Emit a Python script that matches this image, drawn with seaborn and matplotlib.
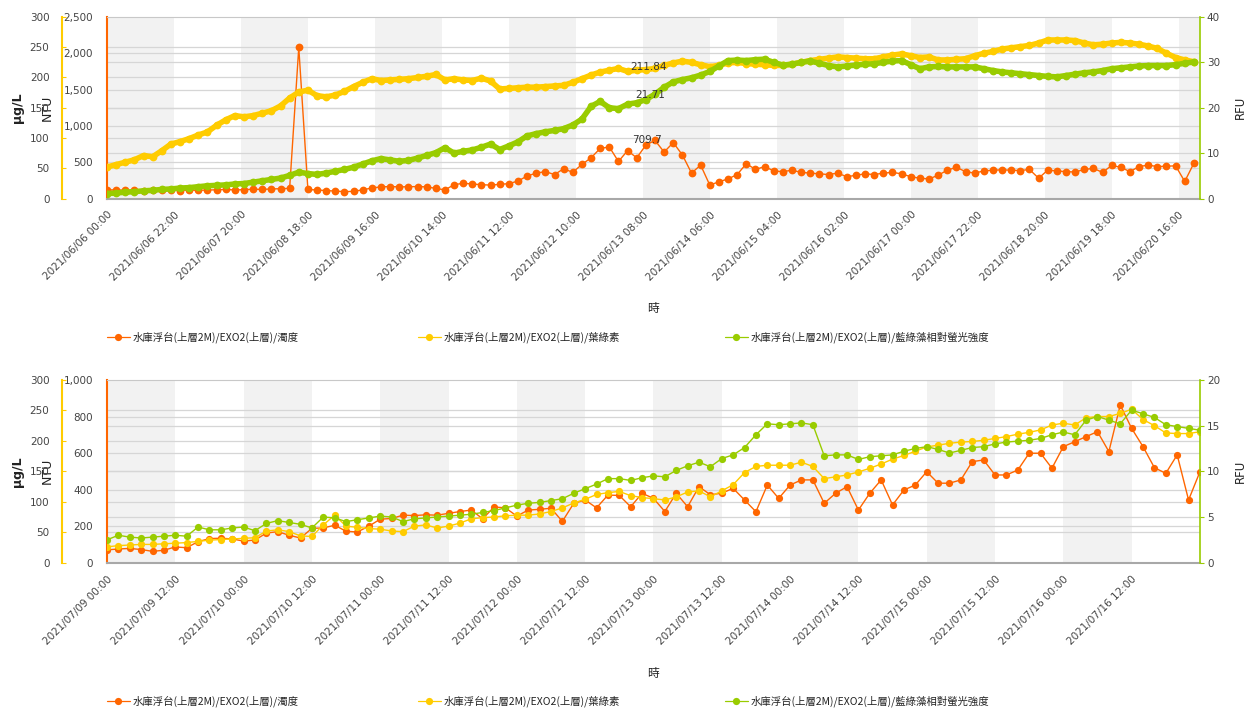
import numpy as np
import pandas as pd
import matplotlib
matplotlib.use('Agg')
import matplotlib.pyplot as plt
import matplotlib.ticker as mticker
from matplotlib.lines import Line2D
import seaborn as sns

# ---- series names ----
names = ['水庫浮台(上層2M)/EXO2(上層)/濁度',
         '水庫浮台(上層2M)/EXO2(上層)/葉綠素',
         '水庫浮台(上層2M)/EXO2(上層)/藍綠藻相對螢光強度']

# ---- top panel: 2021/06/06 00:00, every 3 hours ----
top_start = '2021-06-06 00:00'
top_ntu = [117, 120, 112, 118, 110, 115, 112, 118, 110, 116,
           113, 117, 120, 125, 118, 122, 128, 125, 132, 135,
           140, 2080, 125, 117, 110, 102, 95, 98, 120, 145,
           160, 165, 160, 162, 165, 160, 140, 118, 190, 210,
           200, 190, 185, 195, 205, 240, 310, 350, 370, 330,
           410, 360, 470, 560, 690, 710, 510, 660, 560, 735,
           800, 640, 770, 600, 350, 460, 185, 230, 270, 330,
           480, 400, 440, 380, 370, 390, 360, 350, 340, 330,
           350, 300, 320, 340, 330, 350, 360, 340, 300, 280,
           270, 320, 390, 430, 370, 350, 380, 390, 395, 390,
           385, 400, 280, 390, 380, 370, 365, 400, 415, 360,
           455, 430, 370, 440, 460, 440, 445, 450, 235, 485]
top_ugl = [52, 56, 60, 64, 71, 69, 79, 90, 94, 99,
           105, 110, 121, 130, 137, 135, 137, 141, 145, 153,
           166, 176, 179, 170, 168, 171, 177, 185, 192, 198,
           195, 196, 197, 198, 200, 202, 205, 196, 198, 196,
           195, 199, 194, 181, 182, 183, 184, 184, 185, 186,
           187, 192, 198, 204, 209, 212, 215, 210, 212, 213,
           215, 220, 224, 227, 225, 221, 218, 220, 224, 225,
           223, 222, 221, 220, 220, 222, 225, 228, 230, 232,
           234, 233, 232, 231, 231, 234, 237, 239, 236, 233,
           234, 229, 229, 230, 231, 236, 240, 243, 247, 249,
           251, 253, 257, 262, 262, 262, 261, 257, 254, 255,
           257, 258, 257, 255, 252, 248, 240, 233, 229, 226]
top_rfu = [1.1, 1.2, 1.4, 1.5, 1.7, 1.8, 2.0, 2.1, 2.3, 2.4,
           2.6, 2.8, 2.9, 3.0, 3.2, 3.3, 3.6, 3.9, 4.2, 4.5,
           5.1, 5.8, 5.5, 5.3, 5.6, 6.0, 6.4, 6.9, 7.6, 8.3,
           8.8, 8.5, 8.2, 8.4, 8.9, 9.5, 10.1, 11.2, 10.0, 10.4,
           10.7, 11.3, 12.0, 10.8, 11.6, 12.5, 13.8, 14.3, 14.7, 15.0,
           15.4, 16.2, 17.5, 20.3, 21.4, 20.0, 19.8, 20.8, 21.1, 21.8,
           23.0, 24.5, 25.7, 26.2, 26.6, 27.2, 28.0, 29.2, 30.4, 30.5,
           30.4, 30.6, 30.7, 30.0, 29.4, 29.6, 30.0, 30.3, 29.8, 29.3,
           29.0, 29.2, 29.4, 29.6, 29.7, 30.0, 30.3, 30.4, 29.5, 28.6,
           29.0, 29.1, 29.0, 29.0, 29.0, 29.0, 28.6, 28.2, 27.9, 27.7,
           27.5, 27.3, 27.1, 26.9, 26.8, 27.1, 27.4, 27.7, 27.9, 28.2,
           28.6, 28.8, 29.0, 29.2, 29.3, 29.3, 29.3, 29.5, 29.8, 30.1]

# ---- bottom panel: 2021/07/09 00:00, every 2 hours ----
bot_start = '2021-07-09 00:00'
bot_ntu = [70, 75, 78, 72, 62, 68, 86, 82, 115, 132,
           134, 130, 118, 124, 162, 170, 150, 135, 188, 190,
           205, 172, 168, 200, 238, 242, 260, 258, 262, 260,
           270, 280, 288, 240, 305, 300, 255, 288, 292, 298,
           226, 325, 343, 300, 370, 368, 306, 380, 352, 280,
           380, 306, 416, 372, 380, 407, 343, 279, 425, 352,
           425, 453, 453, 325, 380, 416, 288, 380, 453, 316,
           398, 425, 498, 435, 435, 453, 553, 562, 480, 480,
           507, 599, 599, 517, 635, 662, 690, 717, 608, 863,
           735, 635, 520, 489, 590, 343, 498]
bot_ugl = [26, 28, 29, 30, 30, 31, 32, 33, 35, 37,
           38, 39, 40, 41, 52, 54, 51, 44, 43, 62,
           78, 60, 58, 56, 55, 52, 51, 60, 62, 57,
           60, 65, 72, 74, 75, 77, 78, 78, 80, 84,
           90, 98, 104, 112, 115, 117, 110, 107, 105, 103,
           108, 116, 118, 108, 118, 128, 148, 158, 160, 160,
           160, 165, 158, 138, 141, 144, 149, 155, 162, 170,
           176, 183, 190, 193, 196, 198, 199, 201, 204, 207,
           211, 214, 218, 226, 229, 226, 238, 240, 240, 245,
           252, 235, 225, 213, 212, 212, 215]
bot_rfu = [2.5, 3.0, 2.8, 2.7, 2.8, 2.9, 3.0, 2.9, 3.9, 3.6,
           3.6, 3.8, 3.9, 3.5, 4.3, 4.6, 4.4, 4.2, 3.8, 5.0,
           4.9, 4.5, 4.7, 4.9, 5.1, 5.0, 4.5, 4.8, 4.9, 5.0,
           5.1, 5.2, 5.3, 5.5, 5.7, 6.0, 6.3, 6.5, 6.6, 6.8,
           7.0, 7.6, 8.1, 8.6, 9.2, 9.2, 9.0, 9.3, 9.5, 9.4,
           10.1, 10.6, 11.0, 10.5, 11.4, 11.8, 12.6, 14.0, 15.2, 15.1,
           15.2, 15.3, 15.1, 11.7, 11.8, 11.8, 11.3, 11.6, 11.7, 11.8,
           12.2, 12.5, 12.7, 12.4, 12.0, 12.3, 12.6, 12.7, 13.0, 13.2,
           13.3, 13.4, 13.6, 14.0, 14.3, 14.0, 15.6, 16.0, 15.6, 15.2,
           16.7, 16.3, 15.9, 15.1, 14.9, 14.7, 14.5]

ORANGE = '#ff6600'
YELLOW = '#ffcc00'
GREEN = '#99cc00'
GRID = '#d6d6d6'
TXT = '#444444'
CJK = ['Noto Sans CJK TC', 'DejaVu Sans']

sns.set_style('white')
plt.rcParams['font.family'] = ['DejaVu Sans', 'Noto Sans CJK TC']

fig = plt.figure(figsize=(12.54, 7.11), dpi=100)


def panel(rect, start, step, ntu, ugl, rfu, ntu_max, ntu_step, rfu_max, rfu_step,
          tick_hours, n_ticks, end_hours, legend_y, band_lw, ms):
    ax = fig.add_axes(rect)
    ax_y = ax.twinx()
    ax_g = ax.twinx()

    t0 = pd.Timestamp(start)
    times = pd.date_range(t0, periods=len(ntu), freq=f'{step}h')
    ticks = [t0 + pd.Timedelta(hours=tick_hours * k) for k in range(n_ticks)]
    t_end = t0 + pd.Timedelta(hours=end_hours)

    # alternating background bands
    for k in range(0, n_ticks, 2):
        ax.axvspan(ticks[k], ticks[k] + pd.Timedelta(hours=tick_hours),
                   color='#f2f2f2', lw=0, zorder=0)

    # horizontal grid from all three scales
    for v in np.arange(ntu_step, ntu_max, ntu_step):
        ax.axhline(v, color=GRID, lw=0.9, zorder=1)
    for v in np.arange(50, 300, 50):
        ax.axhline(v / 300 * ntu_max, color=GRID, lw=0.9, zorder=1)
    for v in np.arange(rfu_step, rfu_max, rfu_step):
        ax.axhline(v / rfu_max * ntu_max, color=GRID, lw=0.9, zorder=1)

    kw = dict(marker='o', markersize=ms, markeredgewidth=0)
    sns.lineplot(x=times, y=ntu, ax=ax, color=ORANGE, zorder=3, linewidth=1.0, **kw)
    sns.lineplot(x=times, y=ugl, ax=ax_y, color=YELLOW, linewidth=band_lw, **kw)
    sns.lineplot(x=times, y=rfu, ax=ax_g, color=GREEN, linewidth=band_lw, **kw)

    ax.set_xlim(t0, t_end)
    ax.set_ylim(0, ntu_max)
    ax_y.set_ylim(0, 300)
    ax_g.set_ylim(0, rfu_max)

    # spines
    for a in (ax, ax_y, ax_g):
        for s in a.spines.values():
            s.set_visible(False)
    ax.spines['left'].set_visible(True)
    ax.spines['left'].set_color(ORANGE)
    ax.spines['left'].set_linewidth(1.5)
    ax.spines['top'].set_visible(True)
    ax.spines['top'].set_color('#c8c8c8')
    ax.spines['bottom'].set_visible(True)
    ax.spines['bottom'].set_color('#a8a8a8')
    ax.spines['bottom'].set_linewidth(1.5)
    ax_y.yaxis.tick_left()
    ax_y.yaxis.set_label_position('left')
    ax_y.spines['left'].set_visible(True)
    ax_y.spines['left'].set_position(('outward', 32.4))
    ax_y.spines['left'].set_color(YELLOW)
    ax_y.spines['left'].set_linewidth(1.5)
    ax_g.spines['right'].set_visible(True)
    ax_g.spines['right'].set_color(GREEN)
    ax_g.spines['right'].set_linewidth(1.2)

    # y ticks
    ax.set_yticks(np.arange(0, ntu_max + 1, ntu_step))
    ax.yaxis.set_major_formatter(mticker.FuncFormatter(lambda v, p: f'{v:,.0f}'))
    ax.tick_params(axis='y', length=0, pad=10, labelsize=7.5, labelcolor=TXT)
    ax_y.set_yticks(np.arange(0, 301, 50))
    ax_y.tick_params(axis='y', direction='in', length=3, color=YELLOW, pad=9,
                     labelsize=7.5, labelcolor=TXT)
    ax_g.set_yticks(np.arange(0, rfu_max + 1, rfu_step))
    ax_g.tick_params(axis='y', direction='out', length=3, color=GREEN, pad=2,
                     labelsize=7.5, labelcolor=TXT)

    # x ticks
    ax.set_xticks(ticks)
    ax.set_xticklabels([t.strftime('%Y/%m/%d %H:%M') for t in ticks],
                       rotation=45, ha='right', rotation_mode='anchor',
                       fontsize=7.5, color=TXT)
    ax.tick_params(axis='x', length=0, pad=8)

    # axis labels
    ax.set_xlabel('時', fontsize=8.5, family=CJK, color='#222222')
    ax.xaxis.set_label_coords(0.5, -0.57)
    ax_y.set_ylabel('µg/L', fontsize=9, fontweight='bold', color='#222222', va='center')
    ax_y.yaxis.set_label_coords(-0.0814, 0.5)
    ax.set_ylabel('NTU', fontsize=9, color='#222222', va='center')
    ax.yaxis.set_label_coords(-0.0549, 0.5)
    ax_g.set_ylabel('RFU', fontsize=8.5, color='#222222', va='center')
    ax_g.yaxis.set_label_coords(1.0366, 0.5)

    # legends, one entry each
    for name, col, xf in zip(names, [ORANGE, YELLOW, GREEN], [0.0853, 0.3333, 0.578]):
        h = Line2D([], [], color=col, marker='o', markersize=5.2,
                   markeredgewidth=0, lw=0.9)
        fig.legend(handles=[h], labels=[name], loc='center left',
                   bbox_to_anchor=(xf, legend_y), frameon=False,
                   handlelength=2.2, handletextpad=0.3, borderpad=0,
                   borderaxespad=0, prop={'family': CJK, 'size': 7.5},
                   labelcolor='#222222')
    return ax, ax_y, ax_g


ax1, ax1_y, ax1_g = panel([0.0853, 0.7208, 0.8716, 0.2553], top_start, 3,
                          top_ntu, top_ugl, top_rfu, 2500, 500, 40, 10,
                          22, 17, 359, 0.526, 4.0, 5.6)
ax2, ax2_y, ax2_g = panel([0.0853, 0.2086, 0.8716, 0.257], bot_start, 2,
                          bot_ntu, bot_ugl, bot_rfu, 1000, 200, 20, 5,
                          12, 16, 192, 0.014, 1.0, 5.2)

# value labels on the top panel
ax1_y.text(pd.Timestamp('2021-06-13 04:00'), 216.8, '211.84', fontsize=7.5,
           color='#333333', va='center', ha='left')
ax1_g.text(pd.Timestamp('2021-06-13 05:40'), 22.7, '21.71', fontsize=7.5,
           color='#333333', va='center', ha='left')
ax1.text(pd.Timestamp('2021-06-13 04:20'), 803, '709.7', fontsize=7.5,
         color='#333333', va='center', ha='left', zorder=5)

plt.savefig('out.png', dpi=100)
